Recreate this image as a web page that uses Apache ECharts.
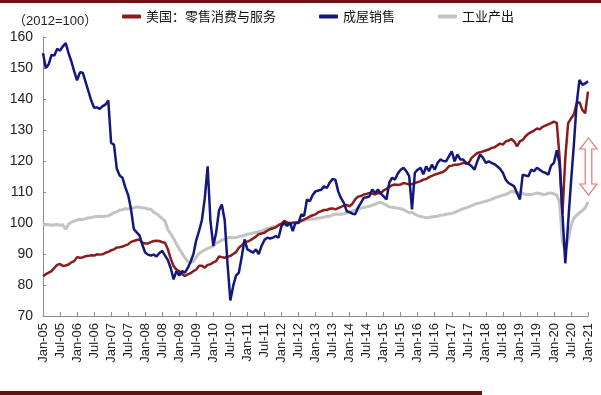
<!DOCTYPE html>
<html>
<head>
<meta charset="utf-8">
<script src="https://cdn.jsdelivr.net/npm/echarts@6/dist/echarts.min.js"></script>
<style>
html,body{margin:0;padding:0;background:#fff;}
#chart{width:601px;height:395px;}
</style>
</head>
<body>
<div id="chart"></div>
<script>
// Monthly, Jan-05 .. Jan-21
const startYear = 2005, monthCount = 193;
const monthNames = ['Jan','Feb','Mar','Apr','May','Jun','Jul','Aug','Sep','Oct','Nov','Dec'];

const seriesNames = ['美国：零售消费与服务', '成屋销售', '工业产出'];
const unitLabel = '（2012=100）';

const retail = [
82.8,83.5,84,84.5,85.5,86.5,86.8,86.1,86.3,86.6,
87.3,87.7,89,88.8,88.9,89.3,89.4,89.6,89.5,89.9,
89.8,89.9,90.4,90.7,91.2,91.5,92.1,92.2,92.4,92.8,
93.1,93.9,94.2,94.5,94.7,93.6,93.4,93.4,93.8,94.2,
94.3,94.2,93.8,93.6,91.5,88.5,86.1,85,84.5,83.5,
82.9,83.4,83.8,84.5,85,86.2,86.2,85.6,86.5,86.7,
87.3,87.7,89.2,89,88.8,89.1,89.4,90,90.6,92,
92.8,93.7,94,94.4,95,95.6,96.4,96.6,96.9,97.5,
98,98.3,98.6,99.3,99.8,100.7,100.2,99.6,100.2,100,
100.2,100.7,101.2,101.6,102.1,102.5,102.8,103.5,103.8,104.2,
104.2,104.6,104.7,104.4,104.8,105.2,105.6,105.8,105.4,106.2,
107.6,108.5,108.7,109.2,109.4,109.7,109.5,109.2,109.7,109.6,
110.5,111,111.6,112.2,112.4,112.3,112.4,112.9,112.7,112.4,
112.6,112.9,113.2,113.5,114,114.2,114.8,115.2,115.6,115.9,
116.2,116.5,117.2,118.3,118.5,118.8,118.8,119,119.4,119.2,
119.4,121,121.8,122.6,122.8,123.1,123.4,123.7,124.2,124.4,
125,125.6,125.3,126.3,126.6,127.1,126.3,124.7,126.3,126.8,
128,128.8,129.3,129.8,130.5,130.2,131,131.4,131.8,132.2,
132.7,132.3,121,103,121,132.2,133.7,135,138.5,139,
136.5,135.4,142.4
];

const homeSales = [
154.8,150,151.2,154.2,154,156.2,155.6,157,158,154.8,
152.1,148.9,146,148.6,148.5,145.5,142.5,139.5,137.2,137.3,
136.8,137.7,138.2,139.5,125.8,125.3,117.5,115.3,114.6,111.5,
109,104.5,98,97,96,93,90.5,89.8,89.5,89.8,
89.2,90.3,91,89.5,88,85.5,81.8,84.5,83,84.5,
84,85.5,87.5,90,94.5,97.5,101,108,118.3,100.5,
92.6,96.9,104,106,101,87,75,79.7,83,84,
89,94.7,91.5,91,90.4,91.5,90,92.6,94.5,95.3,
95,95.3,95.8,95.3,99,100.2,99,100.2,97.4,100.2,
100,102.8,102.3,107.6,107,109,110.2,110.5,110.7,111.8,
111.3,113,114.2,114,110.2,108,106.5,103.8,103.5,103,
102.8,105,106.5,108.1,108.3,108.6,110.8,109.7,110.8,109.5,
108.6,107.6,113,114.6,114,116,117.2,117.8,116.7,115.1,
104.4,116.2,117.2,117.8,115.7,118.3,116.7,118.8,117.2,119.4,
120.5,120,119.9,121.5,123.1,119.9,122.1,120.5,120.5,119.4,
119,118.3,117.2,119.9,122.1,121,119.4,119.9,119.4,119,
118.3,117.5,116.2,114,112.9,112.4,111.8,109.7,107.6,115.6,
115.3,115.1,117.2,116.7,117.8,117.2,116.5,116.2,115.6,118.5,
119.4,123.5,119,103,87,100,113,125,138.5,146.2,
144.6,145,145.7
];

const industrial = [
99.6,99.4,99.5,99.3,99.4,99.5,99.3,99.4,98,99.6,
100.3,100.6,101,101.2,101.1,101.4,101.7,101.8,102,102.1,
102.2,102.1,102.2,102.3,102.8,103.3,103.6,104.2,104.3,104.6,
104.5,104.8,104.9,105.2,105.1,104.9,104.8,104.5,104.4,103.5,
103,102.2,101.4,100.6,97.8,96.5,95,93.2,91.6,90.2,
88.8,87.6,87.2,87.6,89,90.2,90.8,91.3,91.8,92.1,
92.6,93.5,93.9,94.5,94.8,95.2,95.4,95.2,95.3,95.6,
95.8,96,96.4,96.5,96.8,96.9,97.2,97.4,97.9,98.3,
98.5,98.8,99,99.3,99.6,99.5,99.7,99.6,99.8,99.9,
100.3,100.7,100.9,101.1,101.2,101.3,101.4,101.6,101.7,101.9,
102.1,102.2,102.6,102.8,102.9,102.8,103,103.2,103.4,103.8,
104.2,104.5,104.8,105,105.2,105.4,105.8,106,106.5,106.7,
106.2,105.8,105.2,105.1,104.9,104.8,104.6,104.3,103.8,103.3,
103.5,102.8,102.4,102.1,101.9,101.7,101.8,102,102.1,102.2,
102.5,102.6,102.8,103,103.1,103.4,103.8,104.2,104.6,104.9,
105.2,105.6,106,106.3,106.5,106.8,107,107.3,107.6,108,
108.4,108.6,109,109.2,109.6,110.3,110,109.7,109.8,109.5,
109.2,109.3,109.2,109.4,109.7,109.5,109.3,109.2,109.6,109.7,
109.4,109,106.5,94,91,94.5,99,101.5,102.5,103.3,
104,104.9,106.8
];

const yTicks = {min: 70, max: 160, interval: 10};

const categories = [];
for (let i = 0; i < monthCount; i++) {
  const y = startYear + Math.floor(i / 12);
  categories.push(monthNames[i % 12] + '-' + String(y % 100).padStart(2, '0'));
}

const colors = {retail: '#8a1c1c', home: '#12187c', ind: '#c3c3c3'};

const chart = echarts.init(document.getElementById('chart'), null, {renderer: 'canvas'});

const legendText = {fontSize: 13, color: '#111', fontFamily: '"Noto Sans CJK SC", sans-serif'};
function legendAt(left, name) {
  return {
    left: left, top: 10, data: [name], icon: 'roundRect',
    itemWidth: 19, itemHeight: 4, itemGap: 4, padding: 0,
    textStyle: legendText, selectedMode: false
  };
}

const ac = 588.5, at = 138, ab = 195, ah = 11, aw = 8.5, sw = 3.3;

chart.setOption({
  animation: false,
  backgroundColor: '#fff',
  title: {
    text: unitLabel, left: 8, top: 10,
    textStyle: {fontSize: 13, fontWeight: 'normal', color: '#222', fontFamily: 'Arial, "Noto Sans CJK SC", sans-serif'}
  },
  legend: [
    legendAt(122, seriesNames[0]),
    legendAt(319, seriesNames[1]),
    legendAt(438, seriesNames[2])
  ],
  grid: {left: 43, right: 13, top: 37, bottom: 79, containLabel: false},
  xAxis: {
    type: 'category', data: categories, boundaryGap: false,
    axisLine: {lineStyle: {color: '#8c8c8c', width: 1}},
    axisTick: {inside: true, length: 4, interval: 5, lineStyle: {color: '#8c8c8c'}},
    axisLabel: {
      interval: 5, rotate: 90, margin: 7, fontSize: 13, color: '#222',
      fontFamily: 'Arial, "Liberation Sans", sans-serif'
    },
    splitLine: {show: false}
  },
  yAxis: {
    type: 'value', min: yTicks.min, max: yTicks.max, interval: yTicks.interval,
    axisLine: {show: true, lineStyle: {color: '#8c8c8c', width: 1}},
    axisTick: {show: true, inside: true, length: 3, lineStyle: {color: '#8c8c8c'}},
    axisLabel: {margin: 10, fontSize: 14, color: '#222', fontFamily: 'Arial, "Liberation Sans", sans-serif'},
    splitLine: {show: false}
  },
  series: [
    {name: seriesNames[2], type: 'line', data: industrial, showSymbol: false, symbol: 'none', z: 2,
     itemStyle: {color: colors.ind}, lineStyle: {color: colors.ind, width: 3}},
    {name: seriesNames[0], type: 'line', data: retail, showSymbol: false, symbol: 'none', z: 3,
     itemStyle: {color: colors.retail}, lineStyle: {color: colors.retail, width: 2.5}},
    {name: seriesNames[1], type: 'line', data: homeSales, showSymbol: false, symbol: 'none', z: 4,
     itemStyle: {color: colors.home}, lineStyle: {color: colors.home, width: 2.5}}
  ],
  graphic: [
    {type: 'rect', shape: {x: 0, y: 0, width: 601, height: 3}, style: {fill: '#6e1212'}, silent: true},
    {type: 'rect', shape: {x: 0, y: 391, width: 482, height: 4}, style: {fill: '#6b0f0f'}, silent: true},
    {type: 'polygon', silent: true,
     shape: {points: [[ac, at], [ac + aw, at + ah], [ac + sw, at + ah], [ac + sw, ab - ah], [ac + aw, ab - ah],
                      [ac, ab], [ac - aw, ab - ah], [ac - sw, ab - ah], [ac - sw, at + ah], [ac - aw, at + ah]]},
     style: {fill: '#fff', stroke: '#e57373', lineWidth: 1.2}}
  ]
});
</script>
</body>
</html>
